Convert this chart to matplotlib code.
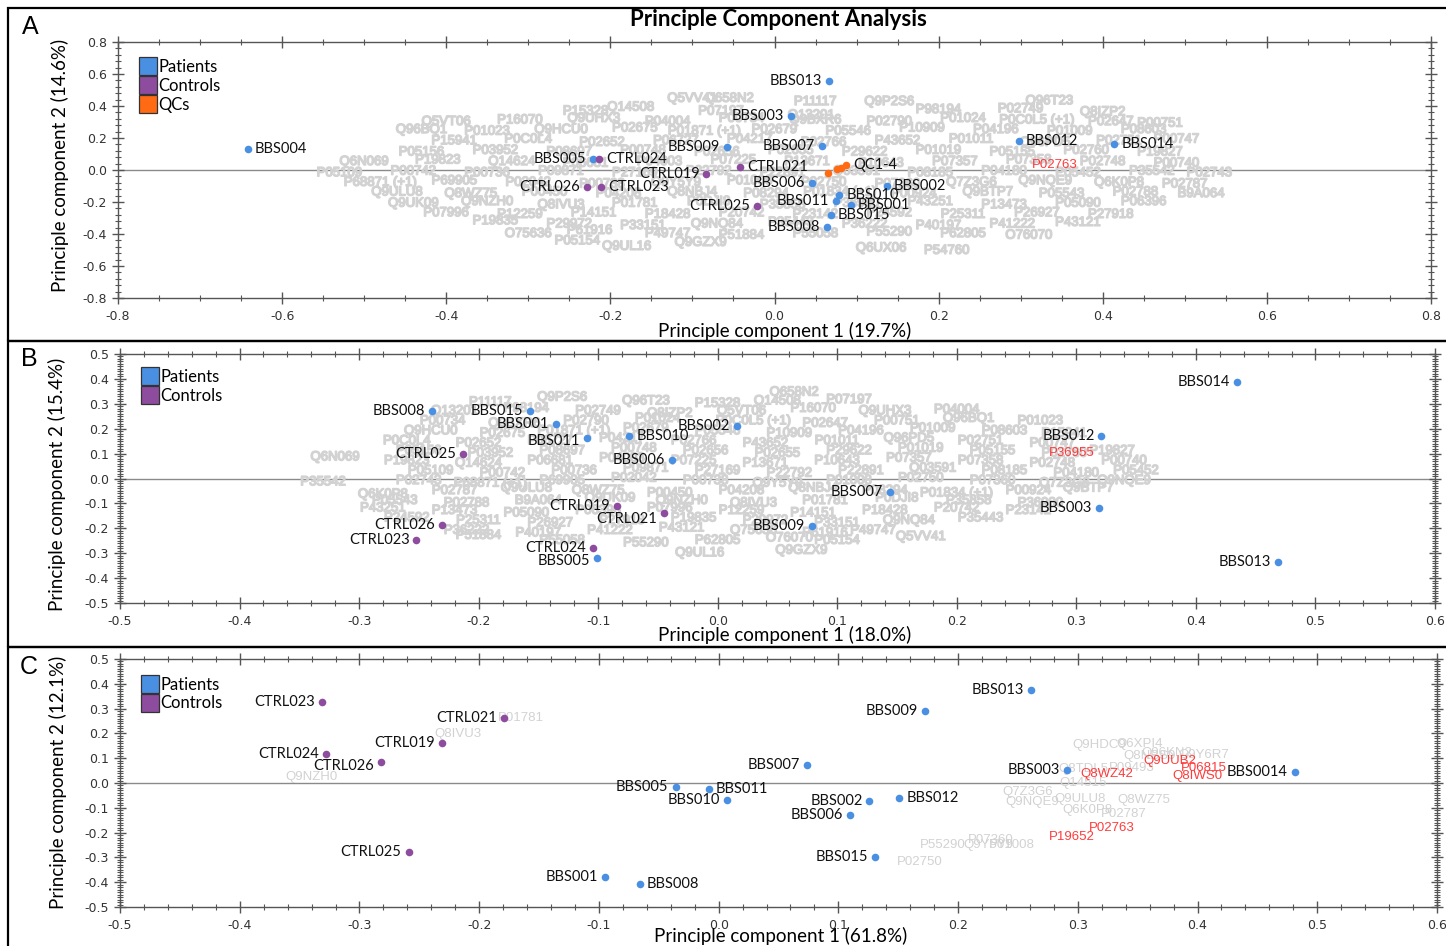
import matplotlib
matplotlib.use("Agg")
import matplotlib.pyplot as plt
import matplotlib.patheffects as pe
from matplotlib.lines import Line2D
from matplotlib.patches import Rectangle
from matplotlib.ticker import MultipleLocator, FuncFormatter

plt.rcParams['axes.unicode_minus'] = False

# ---------------- Panel A: samples ----------------
a_names = ['BBS004', 'BBS013', 'BBS003', 'BBS009', 'BBS007', 'BBS005', 'CTRL024', 'CTRL021',
           'CTRL019', 'CTRL026', 'CTRL023', 'CTRL025', 'BBS006', 'BBS002', 'BBS010', 'BBS011',
           'BBS001', 'BBS015', 'BBS008', 'BBS012', 'BBS014']
a_x = [-0.642, 0.066, 0.020, -0.058, 0.058, -0.221, -0.214, -0.042, -0.083, -0.228, -0.211,
       -0.021, 0.046, 0.137, 0.079, 0.075, 0.093, 0.069, 0.064, 0.298, 0.414]
a_y = [0.131, 0.556, 0.338, 0.144, 0.150, 0.069, 0.069, 0.019, -0.025, -0.106, -0.106,
       -0.225, -0.081, -0.100, -0.156, -0.194, -0.219, -0.281, -0.356, 0.181, 0.163]
a_side = ['r', 'l', 'l', 'l', 'l', 'l', 'r', 'r', 'l', 'l', 'r', 'l', 'l', 'r', 'r', 'l',
          'r', 'r', 'l', 'r', 'r']
qc_x = [0.065, 0.076, 0.081, 0.087]
qc_y = [-0.019, 0.006, 0.013, 0.031]
qc_label = 'QC1-4'
a_red_names = ['P02763']
a_red_x = [0.342]
a_red_y = [0.031]

# ---------------- Panel B: samples ----------------
b_names = ['BBS008', 'CTRL025', 'CTRL026', 'CTRL023', 'BBS015', 'BBS001', 'BBS011', 'BBS010',
           'BBS006', 'BBS002', 'BBS007', 'CTRL019', 'CTRL021', 'BBS009', 'CTRL024', 'BBS005',
           'BBS014', 'BBS012', 'BBS003', 'BBS013']
b_x = [-0.239, -0.213, -0.231, -0.252, -0.157, -0.135, -0.109, -0.074, -0.038, 0.016, 0.144,
       -0.084, -0.045, 0.079, -0.104, -0.101, 0.434, 0.321, 0.319, 0.469]
b_y = [0.271, 0.098, -0.187, -0.247, 0.271, 0.219, 0.163, 0.171, 0.074, 0.211, -0.054,
       -0.110, -0.139, -0.191, -0.279, -0.319, 0.388, 0.171, -0.118, -0.335]
b_side = ['l'] * 7 + ['r'] + ['l'] * 12
b_red_names = ['P36955']
b_red_x = [0.296]
b_red_y = [0.102]

# ---------------- Panel C: samples ----------------
c_names = ['CTRL023', 'CTRL021', 'CTRL019', 'CTRL024', 'CTRL026', 'CTRL025', 'BBS009', 'BBS007',
           'BBS005', 'BBS011', 'BBS010', 'BBS002', 'BBS012', 'BBS006', 'BBS015', 'BBS001',
           'BBS008', 'BBS013', 'BBS003', 'BBS0014']
c_x = [-0.331, -0.179, -0.231, -0.328, -0.282, -0.259, 0.172, 0.074, -0.036, -0.008, 0.007,
       0.126, 0.151, 0.110, 0.131, -0.095, -0.066, 0.261, 0.291, 0.481]
c_y = [0.327, 0.262, 0.161, 0.117, 0.085, -0.278, 0.290, 0.073, -0.016, -0.024, -0.069,
       -0.073, -0.060, -0.129, -0.298, -0.379, -0.407, 0.375, 0.052, 0.044]
c_side = ['l', 'l', 'l', 'l', 'l', 'l', 'l', 'l', 'l', 'r', 'l', 'l', 'r', 'l', 'l', 'l',
          'r', 'l', 'l', 'l']
c_red_names = ['Q8WZ42', 'Q9UUB2', 'P06815', 'Q8IWS0', 'P02763', 'P19652']
c_red_x = [0.324, 0.377, 0.405, 0.400, 0.328, 0.295]
c_red_y = [0.036, 0.089, 0.062, 0.028, -0.181, -0.218]
c_grey_names = ['Q9NZH0', 'P01781', 'Q8IVU3', 'Q9HDC9', 'Q6XPI4', 'Q96KN2', 'Q9Y6R7',
                'Q8NBS9', 'Q8TDL5', 'P09493', 'Q14515', 'Q7Z3G6', 'Q9NQE9', 'Q9ULU8',
                'Q8WZ75', 'Q6K0P8', 'P02787', 'P07360', 'Q9Y5Y9', 'P01008', 'P55290', 'P02750']
c_grey_x = [-0.340, -0.165, -0.218, 0.318, 0.352, 0.374, 0.405, 0.360, 0.305, 0.345, 0.304,
            0.258, 0.262, 0.302, 0.355, 0.308, 0.338, 0.227, 0.225, 0.245, 0.187, 0.168]
c_grey_y = [0.024, 0.262, 0.197, 0.153, 0.157, 0.120, 0.113, 0.110, 0.058, 0.062, 0.000,
            -0.036, -0.077, -0.064, -0.068, -0.109, -0.125, -0.230, -0.250, -0.250, -0.250,
            -0.319]

# ---------------- protein loadings (grey labels) ----------------
proteins = ['Q5VV41', 'Q658N2', 'P11117', 'Q9P2S6', 'Q96T23', 'P15328', 'Q14508', 'P07197',
            'Q13201', 'P98194', 'P02749', 'Q8IZP2', 'Q5VT06', 'P16070', 'Q9UHX3', 'P04004',
            'P00734', 'Q9BXR6', 'P02790', 'P01024', 'P0C0L5 (+1)', 'P02647', 'P00751', 'Q96BQ1',
            'P01023', 'Q9HCU0', 'P02675', 'P01871 (+1)', 'P02679', 'P05546', 'P10909', 'P04196',
            'P01009', 'P08603', 'P15941', 'P0C0L4', 'P02652', 'P06727', 'P04217', 'P02766',
            'P43652', 'P01011', 'Q96PD5', 'P02751', 'P00747', 'P05156', 'P03952', 'P08697',
            'P00748', 'P02656', 'P02655', 'P29622', 'P01019', 'P05155', 'P02760', 'P19827',
            'Q6N069', 'P19823', 'Q14624', 'P06681', 'P04003', 'P07225', 'P13671', 'P10643',
            'P07357', 'P07358', 'P02748', 'P00740', 'P05109', 'P00742', 'P00736', 'P09871',
            'P27169', 'P22792', 'P22891', 'Q03591', 'P08185', 'P04180', 'P05452', 'P35542',
            'P02743', 'P68871 (+1)', 'P69905', 'P02042', 'P00738', 'Q9Y5Y9', 'P01008', 'P02750',
            'P07360', 'Q7Z3G6', 'Q9NQE9', 'Q6K0P8', 'P02787', 'Q9ULU8', 'Q8WZ75', 'P00450',
            'P04208', 'Q8NBJ4', 'P08294', 'P01834 (+1)', 'P00924', 'Q9BTP7', 'P05543', 'P02788',
            'B9A064', 'Q9UK09', 'Q9NZH0', 'Q8IVU3', 'P01781', 'P0DJI8', 'P35858', 'P36980',
            'P43251', 'P13473', 'P05090', 'P06396', 'P07996', 'P12259', 'P14151', 'P18428',
            'P20742', 'P23142', 'P24592', 'P25311', 'P26927', 'P27918', 'P19835', 'P29972',
            'P33151', 'Q9NQ84', 'P35443', 'P36222', 'P40197', 'P41222', 'P43121', 'O75636',
            'P61916', 'P49747', 'P51884', 'P55058', 'P55290', 'P62805', 'O76070', 'P05154',
            'Q9UL16', 'Q9GZX9', 'Q6UX06', 'P54760']

load_a_x = [-0.100, -0.055, 0.050, 0.140, 0.335,
            -0.230, -0.175, -0.065, 0.045, 0.200, 0.300, 0.400,
            -0.40, -0.31, -0.22, -0.13, -0.04, 0.05, 0.14, 0.23, 0.32, 0.41, 0.47,
            -0.43, -0.35, -0.26, -0.17, -0.085, 0.0, 0.09, 0.18, 0.27, 0.36, 0.45,
            -0.39, -0.30, -0.21, -0.12, -0.03, 0.06, 0.15, 0.24, 0.33, 0.42, 0.49,
            -0.43, -0.34, -0.25, -0.16, -0.07, 0.02, 0.11, 0.20, 0.29, 0.38, 0.47,
            -0.50, -0.41, -0.32, -0.23, -0.14, -0.05, 0.04, 0.13, 0.22, 0.31, 0.40, 0.49,
            -0.53, -0.44, -0.35, -0.26, -0.17, -0.08, 0.01, 0.10, 0.19, 0.28, 0.37, 0.46, 0.53,
            -0.48, -0.39, -0.30, -0.21, -0.12, -0.03, 0.06, 0.15, 0.24, 0.33, 0.42, 0.50,
            -0.46, -0.37, -0.28, -0.19, -0.10, -0.01, 0.08, 0.17, 0.26, 0.35, 0.44, 0.52,
            -0.44, -0.35, -0.26, -0.17, -0.08, 0.01, 0.10, 0.19, 0.28, 0.37, 0.45,
            -0.40, -0.31, -0.22, -0.13, -0.04, 0.05, 0.14, 0.23, 0.32, 0.41,
            -0.34, -0.25, -0.16, -0.07, 0.02, 0.11, 0.20, 0.29, 0.37,
            -0.30, -0.225, -0.13, -0.04, 0.05, 0.14, 0.23, 0.31,
            -0.24, -0.18, -0.09, 0.13, 0.21]
load_a_y = [0.445, 0.445, 0.425, 0.425, 0.430,
            0.365, 0.390, 0.365, 0.340, 0.375, 0.380, 0.360,
            0.30, 0.31, 0.32, 0.30, 0.32, 0.31, 0.30, 0.32, 0.31, 0.30, 0.29,
            0.25, 0.24, 0.25, 0.26, 0.24, 0.25, 0.24, 0.26, 0.25, 0.24, 0.25,
            0.18, 0.19, 0.17, 0.18, 0.19, 0.17, 0.18, 0.19, 0.17, 0.18, 0.19,
            0.11, 0.12, 0.11, 0.12, 0.11, 0.12, 0.11, 0.12, 0.11, 0.12, 0.11,
            0.05, 0.06, 0.05, 0.04, 0.05, 0.06, 0.05, 0.04, 0.05, 0.06, 0.05, 0.04,
            -0.02, -0.01, -0.02, -0.01, -0.02, -0.01, -0.02, -0.01, -0.02, -0.01, -0.02, -0.01, -0.02,
            -0.08, -0.07, -0.08, -0.09, -0.08, -0.07, -0.08, -0.09, -0.08, -0.07, -0.08, -0.09,
            -0.14, -0.15, -0.14, -0.15, -0.14, -0.15, -0.14, -0.15, -0.14, -0.15, -0.14, -0.15,
            -0.21, -0.20, -0.22, -0.21, -0.20, -0.22, -0.21, -0.20, -0.22, -0.21, -0.20,
            -0.27, -0.28, -0.27, -0.28, -0.27, -0.28, -0.27, -0.28, -0.27, -0.28,
            -0.32, -0.34, -0.35, -0.34, -0.33, -0.34, -0.35, -0.34, -0.33,
            -0.40, -0.38, -0.40, -0.41, -0.40, -0.39, -0.40, -0.41,
            -0.445, -0.48, -0.455, -0.49, -0.505]

load_b_x = [0.17, 0.064,
            -0.19, -0.13, -0.06, 0.0, 0.05, 0.11,
            -0.22, -0.16, -0.10, -0.04, 0.02, 0.08, 0.14, 0.20,
            -0.23, -0.17, -0.11, -0.05, 0.03, 0.09, 0.15, 0.21, 0.27,
            -0.24, -0.18, -0.12, -0.06, 0.0, 0.06, 0.12, 0.18, 0.24, 0.29,
            -0.26, -0.20, -0.14, -0.08, -0.02, 0.04, 0.10, 0.16, 0.22, 0.28,
            -0.25, -0.19, -0.13, -0.07, -0.01, 0.05, 0.11, 0.17, 0.23, 0.29, 0.33,
            -0.32, -0.26, -0.20, -0.14, -0.08, -0.02, 0.04, 0.10, 0.16, 0.22, 0.28, 0.34,
            -0.24, -0.18, -0.12, -0.06, 0.0, 0.06, 0.12, 0.18, 0.24, 0.30, 0.35,
            -0.33, -0.25, -0.19, -0.13, -0.07, -0.01, 0.05, 0.11, 0.17, 0.23, 0.29, 0.34,
            -0.28, -0.22, -0.16, -0.10, -0.04, 0.02, 0.08, 0.14, 0.20, 0.26, 0.31,
            -0.27, -0.21, -0.15, -0.09, -0.03, 0.03, 0.09, 0.15, 0.21, 0.27,
            -0.28, -0.22, -0.16, -0.10, -0.04, 0.02, 0.08, 0.14, 0.20, 0.26,
            -0.26, -0.20, -0.14, -0.08, -0.02, 0.04, 0.10, 0.16, 0.22,
            -0.21, -0.15, -0.09, -0.03, 0.03, 0.09, 0.13,
            -0.20, -0.13, -0.06, 0.0, 0.06, 0.10,
            -0.015, 0.07]
load_b_y = [-0.235, 0.345,
            0.305, 0.325, 0.31, 0.30, 0.31, 0.315,
            0.27, 0.28, 0.27, 0.26, 0.27, 0.28, 0.27, 0.275,
            0.23, 0.22, 0.23, 0.24, 0.23, 0.22, 0.23, 0.24, 0.23,
            0.19, 0.18, 0.19, 0.20, 0.19, 0.18, 0.19, 0.20, 0.19, 0.18,
            0.15, 0.14, 0.15, 0.16, 0.15, 0.14, 0.15, 0.16, 0.15, 0.14,
            0.11, 0.10, 0.11, 0.12, 0.11, 0.10, 0.11, 0.12, 0.11, 0.10, 0.11,
            0.085, 0.07, 0.06, 0.07, 0.08, 0.07, 0.06, 0.07, 0.08, 0.07, 0.06, 0.07,
            0.03, 0.02, 0.03, 0.04, 0.03, 0.02, 0.03, 0.04, 0.03, 0.02, 0.03,
            -0.015, -0.01, -0.02, -0.01, 0.0, -0.01, -0.02, -0.01, 0.0, -0.01, -0.02, -0.01,
            -0.065, -0.05, -0.04, -0.05, -0.06, -0.05, -0.04, -0.05, -0.06, -0.05, -0.04,
            -0.09, -0.10, -0.09, -0.08, -0.09, -0.10, -0.09, -0.08, -0.09, -0.10,
            -0.12, -0.13, -0.14, -0.13, -0.12, -0.13, -0.14, -0.13, -0.12, -0.13,
            -0.16, -0.17, -0.18, -0.17, -0.16, -0.17, -0.18, -0.17, -0.16,
            -0.21, -0.22, -0.21, -0.20, -0.21, -0.22, -0.21,
            -0.23, -0.25, -0.26, -0.25, -0.24, -0.25,
            -0.30, -0.29]

# ---------------- titles / labels ----------------
title = 'Principle Component Analysis'
xlabels = ['Principle component 1 (19.7%)', 'Principle component 1 (18.0%)',
           'Principle component 1 (61.8%)']
ylabels = ['Principle component 2 (14.6%)', 'Principle component 2 (15.4%)',
           'Principle component 2 (12.1%)']
panel_letters = ['A', 'B', 'C']

# ---------------- styling ----------------
W, H = 1446, 946
PAT = '#4a90e2'
CTL = '#8e4c9e'
QCC = '#ff6a13'
GREY = '#d2d2d2'
RED = '#ff3b3b'
LBL_FONT = ['Lato', 'DejaVu Sans']
GREY_FONT = ['Liberation Sans', 'DejaVu Sans']

fig = plt.figure(figsize=(W / 100, H / 100), dpi=100)


def make_axes(l, t, r, b):
    return fig.add_axes([l / W, 1 - b / H, (r - l) / W, (b - t) / H])


def fmt(v, pos):
    if abs(v) < 1e-9:
        v = 0.0
    return f'{v:.1f}'


def style_axes(ax, xlim, ylim, xmaj, xmin, ymaj, ymin):
    ax.set_xlim(*xlim)
    ax.set_ylim(*ylim)
    ax.xaxis.set_major_locator(MultipleLocator(xmaj))
    ax.xaxis.set_minor_locator(MultipleLocator(xmin))
    ax.yaxis.set_major_locator(MultipleLocator(ymaj))
    ax.yaxis.set_minor_locator(MultipleLocator(ymin))
    ax.xaxis.set_major_formatter(FuncFormatter(fmt))
    ax.yaxis.set_major_formatter(FuncFormatter(fmt))
    ax.tick_params(which='both', direction='inout', top=True, right=True,
                   colors='#555', labelcolor='#333', labelsize=9)
    ax.tick_params(which='major', length=9, width=1)
    ax.tick_params(which='minor', length=5, width=0.8)
    ax.tick_params(axis='x', which='major', pad=4)
    for s in ax.spines.values():
        s.set_color('#555')
        s.set_linewidth(1.0)
    ax.axhline(0, color='#8a8a8a', lw=1.0, zorder=1)
    ax.patch.set_alpha(0)


def grey_labels(ax, names, xs, ys, color=GREY, fat=True):
    for n, x, y in zip(names, xs, ys):
        t = ax.text(x, y, n, fontsize=9.5, color=color, family=GREY_FONT, ha='center',
                    va='center', zorder=2, clip_on=True)
        if fat:
            t.set_path_effects([pe.withStroke(linewidth=1.1, foreground=color)])


def samples(ax, names, xs, ys, sides, dys=None):
    dys = dys or {}
    for n, x, y, s in zip(names, xs, ys, sides):
        col = PAT if n.startswith('BBS') else CTL
        ax.scatter([x], [y], s=30, color=col, zorder=4, linewidths=0)
        off = 5 if s == 'r' else -5
        ax.annotate(n, (x, y), xytext=(off, dys.get(n, 0)), textcoords='offset points',
                    ha='left' if s == 'r' else 'right', va='center', fontsize=10.5,
                    family=LBL_FONT, color='#111', zorder=5)


def legend(ax, entries, anchor):
    handles = [Line2D([], [], marker='s', ms=12.5, mfc=c, mec='#333', mew=0.9, ls='none')
               for _, c in entries]
    ax.legend(handles, [e for e, _ in entries], loc='upper left', bbox_to_anchor=anchor,
              frameon=False, borderpad=0, handletextpad=0.15, labelspacing=0.17,
              handlelength=1.0, prop={'family': LBL_FONT, 'size': 12})


# ---- Panel A ----
axA = make_axes(118, 42, 1431, 298)
style_axes(axA, (-0.8, 0.8), (-0.8, 0.8), 0.2, 0.05, 0.2, 0.04)
grey_labels(axA, proteins, load_a_x, load_a_y)
grey_labels(axA, a_red_names, a_red_x, a_red_y, RED, fat=False)
samples(axA, a_names, a_x, a_y, a_side)
axA.scatter(qc_x, qc_y, s=30, color=QCC, zorder=4, linewidths=0)
axA.annotate(qc_label, (qc_x[-1], qc_y[-1]), xytext=(5, 0), textcoords='offset points',
             ha='left', va='center', fontsize=10.5, family=LBL_FONT, color='#111', zorder=5)
legend(axA, [('Patients', PAT), ('Controls', CTL), ('QCs', QCC)], (0.010, 0.966))

# ---- Panel B ----
axB = make_axes(120, 354, 1435, 603)
style_axes(axB, (-0.5, 0.6), (-0.5, 0.5), 0.1, 0.02, 0.1, 0.01)
grey_labels(axB, proteins, load_b_x, load_b_y)
grey_labels(axB, b_red_names, b_red_x, b_red_y, RED, fat=False)
samples(axB, b_names, b_x, b_y, b_side, {'CTRL021': -4, 'BBS005': -2, 'BBS011': -2})
legend(axB, [('Patients', PAT), ('Controls', CTL)], (0.010, 0.972))

# ---- Panel C ----
axC = make_axes(120, 659, 1437, 907)
style_axes(axC, (-0.5, 0.6), (-0.5, 0.5), 0.1, 0.02, 0.1, 0.01)
grey_labels(axC, c_grey_names, c_grey_x, c_grey_y, fat=False)
grey_labels(axC, c_red_names, c_red_x, c_red_y, RED, fat=False)
samples(axC, c_names, c_x, c_y, c_side, {'CTRL026': -3})
legend(axC, [('Patients', PAT), ('Controls', CTL)], (0.010, 0.963))

# ---- texts ----
def ftext(x, y, s, **kw):
    fig.text(x / W, 1 - y / H, s, ha='center', va='center', **kw)


ftext(778, 20, title, fontsize=16, fontweight='bold', family=LBL_FONT)
for (xc, yc), s in zip([(785, 331), (785, 635), (781, 936)], xlabels):
    ftext(xc, yc, s, fontsize=13.5, family=LBL_FONT)
for (xc, yc), s in zip([(60, 165), (57, 484), (58, 782)], ylabels):
    ftext(xc, yc, s, fontsize=13.5, family=LBL_FONT, rotation=90)
for (xc, yc), s in zip([(30, 27), (29, 359), (29, 667)], panel_letters):
    ftext(xc, yc, s, fontsize=18, family=['Liberation Sans', 'DejaVu Sans'])

# ---- panel frames ----
for top, bot in [(8, 341), (341, 647), (647, 952)]:
    fig.add_artist(Rectangle((8 / W, 1 - bot / H), (1460 - 8) / W, (bot - top) / H,
                             transform=fig.transFigure, fill=False, ec='black', lw=1.6,
                             clip_on=False))

fig.savefig('out.png', dpi=100)
